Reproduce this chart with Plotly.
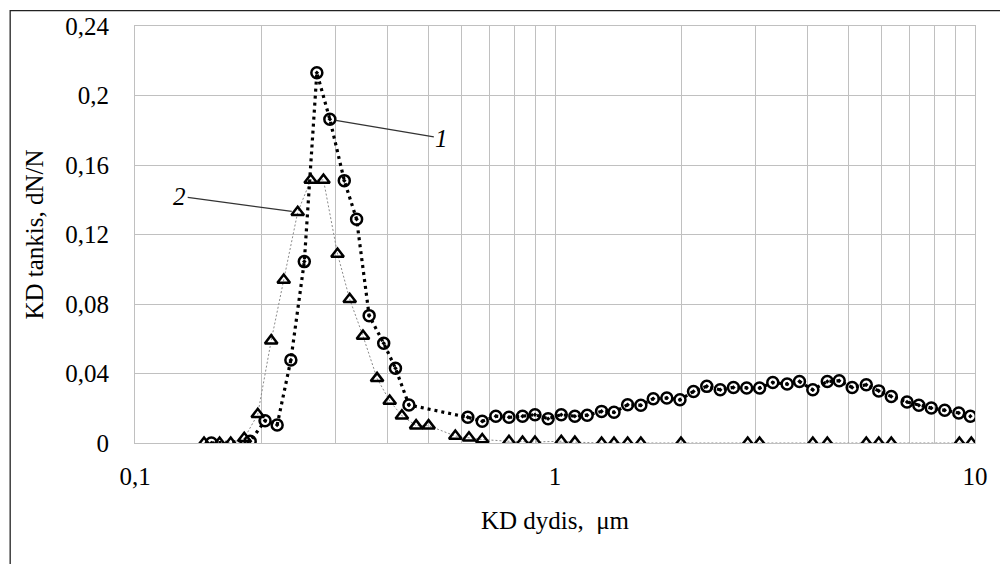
import math
import plotly.graph_objects as go

# Series 1 (circles) – particle size distribution, curve 1
size_1 = [0.152, 0.188, 0.204, 0.218, 0.235, 0.253, 0.271, 0.291, 0.315, 0.337, 0.361,
          0.391, 0.417, 0.449, 0.620, 0.671, 0.723, 0.777, 0.837, 0.896, 0.963, 1.035,
          1.115, 1.193, 1.291, 1.382, 1.489, 1.601, 1.714, 1.846, 1.984, 2.137, 2.298,
          2.474, 2.66, 2.86, 3.07, 3.30, 3.57, 3.82, 4.11, 4.45, 4.75, 5.10, 5.51, 5.90,
          6.32, 6.89, 7.35, 7.87, 8.47, 9.15, 9.75]
dens_1 = [0.0, 0.001, 0.0128, 0.0104, 0.0478, 0.1044, 0.2131, 0.1863, 0.151, 0.1288, 0.0733,
          0.0574, 0.043, 0.0219, 0.0148, 0.0125, 0.0154, 0.0148, 0.0154, 0.0163, 0.014, 0.0163,
          0.0154, 0.016, 0.0182, 0.0177, 0.022, 0.0217, 0.0255, 0.0259, 0.0249, 0.0297, 0.0326,
          0.0306, 0.032, 0.0316, 0.0316, 0.0348, 0.0339, 0.0354, 0.0306, 0.0354, 0.0358, 0.032,
          0.0335, 0.030, 0.0268, 0.0236, 0.0217, 0.0201, 0.0188, 0.0173, 0.0154]

# Series 2 (triangles) – curve 2
size_2 = [0.146, 0.159, 0.169, 0.182, 0.196, 0.211, 0.226, 0.244, 0.262, 0.281, 0.3035,
          0.3245, 0.349, 0.377, 0.404, 0.432, 0.467, 0.50, 0.579, 0.624, 0.671, 0.777,
          0.837, 0.896, 1.035, 1.115, 1.291, 1.382, 1.489, 1.601, 1.995, 2.876, 3.07,
          4.11, 4.45, 5.51, 5.90, 6.32, 9.18, 9.80]
dens_2 = [0.0, 0.0, 0.0, 0.0027, 0.0165, 0.0589, 0.0938, 0.1328, 0.1514, 0.1514, 0.1088,
          0.0827, 0.0616, 0.0372, 0.0242, 0.0157, 0.01, 0.01, 0.004, 0.003, 0.002, 0.001,
          0.0006, 0.0006, 0.001, 0.0005, 0.0, 0.0, 0.0, 0.0, 0.0, 0.0, 0.0,
          0.0, 0.0, 0.0, 0.0, 0.0, 0.0, 0.0]

# Axis ticks
x_grid = [0.1, 0.2, 0.3, 0.4, 0.5, 0.6, 0.7, 0.8, 0.9, 1, 2, 3, 4, 5, 6, 7, 8, 9, 10]
x_text = ["0,1", "", "", "", "", "", "", "", "", "1", "", "", "", "", "", "", "", "", "10"]
y_ticks = [0, 0.04, 0.08, 0.12, 0.16, 0.2, 0.24]
y_text = ["0", "0,04", "0,08", "0,12", "0,16", "0,2", "0,24"]

FONT = "'Liberation Serif', 'Times New Roman', Tinos, 'DejaVu Serif', serif"
GRID = "#c0c0c0"
FS = 25

fig = go.Figure()

fig.add_trace(go.Scatter(
    x=size_2, y=dens_2, mode="lines+markers", name="2",
    line=dict(color="#8a8a8a", width=1, dash="2px,2px"),
    marker=dict(symbol="triangle-up-open", size=11, color="black",
                line=dict(color="black", width=2.5)),
))
fig.add_trace(go.Scatter(
    x=size_1, y=dens_1, mode="lines+markers", name="1",
    line=dict(color="black", width=3.2, dash="3px,4px"),
    marker=dict(symbol="circle-open-dot", size=11, color="black",
                line=dict(color="black", width=2.5)),
))

# Leader-line annotations
fig.add_annotation(x=math.log10(size_1[7]), y=dens_1[7], xref="x", yref="y",
                   text="<i>1</i>", showarrow=True, arrowhead=0, arrowwidth=1.2,
                   arrowcolor="#333333", ax=112, ay=19, standoff=6,
                   font=dict(family=FONT, size=FS, color="black"))
fig.add_annotation(x=math.log10(size_2[7]), y=dens_2[7], xref="x", yref="y",
                   text="<i>2</i>", showarrow=True, arrowhead=0, arrowwidth=1.2,
                   arrowcolor="#333333", ax=-118, ay=-16, standoff=6,
                   font=dict(family=FONT, size=FS, color="black"))

# Outer chart frame
fig.add_shape(type="rect", xref="paper", yref="paper",
              x0=-0.1486, x1=1.3, y0=-0.6, y1=1.0367,
              line=dict(color="#222222", width=1.3), fillcolor="rgba(0,0,0,0)")

fig.update_layout(
    width=1000, height=564,
    margin=dict(l=135, r=17, t=26, b=121),
    paper_bgcolor="white", plot_bgcolor="white",
    showlegend=False,
    font=dict(family=FONT, size=FS, color="black"),
    xaxis=dict(
        type="log", range=[-1, 1],
        tickmode="array", tickvals=x_grid, ticktext=x_text,
        showgrid=True, gridcolor=GRID, gridwidth=1,
        showline=True, linecolor=GRID, linewidth=1, mirror=True,
        ticks="outside", ticklen=11, tickcolor="rgba(0,0,0,0)",
        zeroline=False,
        tickfont=dict(family=FONT, size=FS, color="black"),
        title=dict(text="KD dydis,  μm", font=dict(family=FONT, size=FS, color="black"),
                   standoff=22),
    ),
    yaxis=dict(
        range=[0, 0.24],
        tickmode="array", tickvals=y_ticks, ticktext=y_text,
        showgrid=True, gridcolor=GRID, gridwidth=1,
        showline=True, linecolor=GRID, linewidth=1, mirror=True,
        ticks="outside", ticklen=20, tickcolor="rgba(0,0,0,0)",
        zeroline=False,
        tickfont=dict(family=FONT, size=FS, color="black"),
        title=dict(text="KD tankis, dN/N", font=dict(family=FONT, size=FS, color="black"),
                   standoff=14),
    ),
)

fig.write_html("out.html")
